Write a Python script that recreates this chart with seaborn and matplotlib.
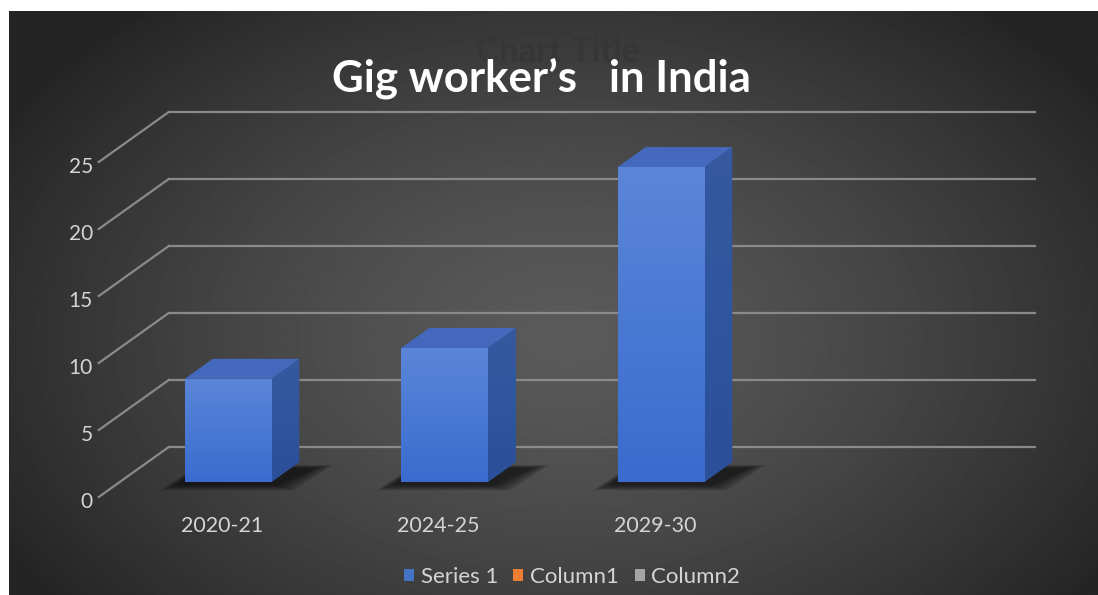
import numpy as np
import matplotlib
matplotlib.use("Agg")
import matplotlib.pyplot as plt
import seaborn as sns
from matplotlib.patches import Polygon, Patch
from matplotlib.colors import LinearSegmentedColormap

# data
years = ["2020-21", "2024-25", "2029-30"]
workers_mn = [7.7, 10.0, 23.5]
y_ticks = [0, 5, 10, 15, 20, 25]
series_names = ["Series 1", "Column1", "Column2"]
series_colors = ["#4472c4", "#ed7d31", "#a5a5a5"]

W, H = 1098, 595
# pixel geometry of the bar front plane (px per unit, origin in px)
PX_X, X0 = 216.5, 228.0
PX_Y, Y0 = 13.4, 482.0
DX, DY = 70 / PX_X, 50 / PX_Y  # full floor depth in data units


def px(xp, yp):
    return (xp - X0) / PX_X, (Y0 - yp) / PX_Y


fig = plt.figure(figsize=(W / 100, H / 100), dpi=100, facecolor="white")
ax = fig.add_axes([0, 0, 1, 1])
plt.rcParams["font.family"] = ["Lato", "DejaVu Sans"]

# dark radial background
yy, xx = np.mgrid[0:H, 0:W]
r = np.sqrt(((xx - 560) / 640.0) ** 2 + ((yy - 330) / 430.0) ** 2)
bg = np.clip(90 - 52 * r ** 1.4, 37, 92) / 255.0
x_l, y_t = px(9, 11)
x_r, y_b = px(W, H)
ax.imshow(bg, cmap="gray", vmin=0, vmax=1, extent=(x_l, x_r, y_b, y_t),
          aspect="auto", zorder=0, interpolation="bilinear")

# bars
sns.barplot(x=years, y=workers_mn, color=series_colors[0], width=0.4,
            saturation=1, ax=ax, zorder=4, linewidth=0)
bars = list(ax.patches)

# walls / gridlines
grid_c = "#8a8a8a"
x_lo, x_hi = -0.5, 3.5
for v in y_ticks:
    ax.plot([x_lo + 0.7 * DX, x_hi + 0.7 * DX], [v + 0.7 * DY, v + 0.7 * DY],
            color=grid_c, lw=1.6, zorder=1)
    ax.plot([x_lo - 0.3 * DX, x_lo + 0.7 * DX], [v - 0.3 * DY, v + 0.7 * DY],
            color=grid_c, lw=1.6, zorder=1)
    ax.text(x_lo - 0.3 * DX - 6 / PX_X, v - 0.3 * DY - 5 / PX_Y, str(v),
            ha="right", va="center", fontsize=15, color="#d4d4d4")

face_cmap = LinearSegmentedColormap.from_list("face", ["#3b6bcf", "#4a79d4", "#5b86d8"])
side_cmap = LinearSegmentedColormap.from_list("side", ["#2b4f98", "#2f569f", "#36599f"])
bd_x, bd_y = 0.4 * DX, 0.4 * DY
for i, p in enumerate(bars):
    x, w, h = p.get_x(), p.get_width(), p.get_height()
    # soft floor shadow
    for k in range(5):
        g = 0.018 * (4 - k)
        sh = Polygon([(x - 0.04 - g, -0.25 - g * 5), (x + w + 0.03 + g, -0.25 - g * 5),
                      (x + w + bd_x + 0.08 + g, bd_y * 0.7 + g * 3), (x + bd_x * 0.5, bd_y * 0.7 + g * 3)],
                     closed=True, facecolor="black", edgecolor="none", alpha=0.16, zorder=2)
        ax.add_patch(sh)
    # side face
    side = Polygon([(x + w, 0), (x + w + bd_x, bd_y), (x + w + bd_x, h + bd_y), (x + w, h)],
                   closed=True, facecolor="#2f559d", edgecolor="none", zorder=3)
    ax.add_patch(side)
    grad = np.linspace(0, 1, 64).reshape(-1, 1) * np.ones((1, 8))
    im = ax.imshow(grad, cmap=side_cmap, extent=(x + w, x + w + bd_x, 0, h + bd_y),
                   aspect="auto", origin="lower", zorder=3.1)
    im.set_clip_path(side)
    # top face
    top = Polygon([(x, h), (x + bd_x, h + bd_y), (x + w + bd_x, h + bd_y), (x + w, h)],
                  closed=True, facecolor="#4468bb", edgecolor="none", zorder=3.2)
    ax.add_patch(top)
    # front face gradient
    im = ax.imshow(grad, cmap=face_cmap, extent=(x, x + w, 0, h),
                   aspect="auto", origin="lower", zorder=4.1)
    im.set_clip_path(p)
    ax.text(x + w / 2 - 6 / PX_X, px(0, 526)[1], years[i], ha="center", va="center",
            fontsize=15.5, color="#d4d4d4")

ax.set_xlim(-X0 / PX_X, (W - X0) / PX_X)
ax.set_ylim((Y0 - H) / PX_Y, Y0 / PX_Y)
ax.axis("off")

# titles (the faint placeholder sits behind the real title, as in the original)
fig.text(558 / W, 1 - 52 / H, "Chart Title", ha="center", va="center",
         fontsize=25, weight="bold", color="#363636")
fig.text(541 / W, 1 - 78 / H, "Gig worker\u2019s   in India", ha="center", va="center",
         fontsize=31.5, weight="bold", color="white")

handles = [Patch(facecolor=c, edgecolor="none", label=n) for n, c in zip(series_names, series_colors)]
fig.legend(handles=handles, loc="center", bbox_to_anchor=(572 / W, 1 - 577 / H), ncol=3,
           frameon=False, handlelength=0.45, handleheight=0.45, handletextpad=0.3,
           columnspacing=0.7, labelcolor="#d4d4d4", fontsize=16)

fig.savefig("out.png", dpi=100, facecolor="white")
